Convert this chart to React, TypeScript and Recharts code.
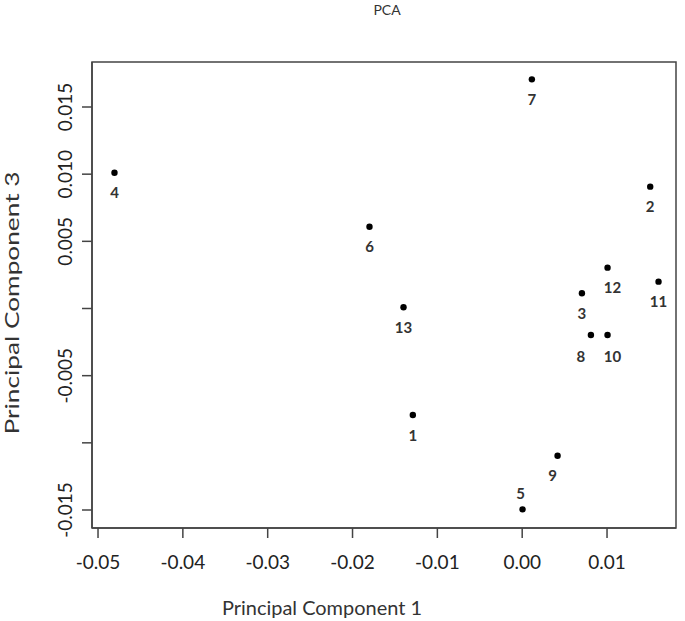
import React from "react";
import { ScatterChart, Scatter, XAxis, YAxis, ReferenceArea } from "recharts";

// PCA scores
const SAMPLES = ["1", "2", "3", "4", "5", "6", "7", "8", "9", "10", "11", "12", "13"];
const PC1 = [-0.01289, 0.01509, 0.00704, -0.04806, 0.00004, -0.018, 0.00114, 0.0081, 0.00417, 0.01006, 0.01607, 0.01006, -0.01399];
const PC3 = [-0.00793, 0.00907, 0.00113, 0.01011, -0.01495, 0.00609, 0.01706, -0.00197, -0.01096, -0.00197, 0.002, 0.00304, 0.00009];

const X_TICKS = [-0.05, -0.04, -0.03, -0.02, -0.01, 0, 0.01];
const X_TICK_LABELS = ["-0.05", "-0.04", "-0.03", "-0.02", "-0.01", "0.00", "0.01"];
const Y_TICKS = [-0.015, -0.01, -0.005, 0, 0.005, 0.01, 0.015];
const Y_TICK_LABELS = ["-0.015", "", "-0.005", "", "0.005", "0.010", "0.015"];

const X_DOMAIN: [number, number] = [-0.05071, 0.01813];
const Y_DOMAIN: [number, number] = [-0.01634, 0.01835];

// label nudges for a few crowded points (dx, dy from default spot under the dot)
const LABEL_NUDGE: Record<string, [number, number]> = {
  "5": [-2, -36],
  "8": [-10, 2],
  "9": [-5, 0],
  "10": [5, 2],
  "12": [5, 0],
};

const data = SAMPLES.map((name, i) => ({ name, pc1: PC1[i], pc3: PC3[i] }));

const AXIS = "#444";
const FONT = "Lato, 'Open Sans', sans-serif";

const findIdx = (arr: number[], v: number) => arr.findIndex((t) => Math.abs(t - v) < 1e-9);

const XTick = ({ x, payload }: any) => {
  const i = findIdx(X_TICKS, payload.value);
  return (
    <text x={x} y={569} textAnchor="middle" fontFamily={FONT} fontSize={19} fill="#222">
      {X_TICK_LABELS[i]}
    </text>
  );
};

const YTick = ({ y, payload }: any) => {
  const i = findIdx(Y_TICKS, payload.value);
  return (
    <text
      x={72}
      y={y}
      transform={`rotate(-90, 72, ${y})`}
      textAnchor="middle"
      fontFamily={FONT}
      fontSize={19}
      fill="#222"
    >
      {Y_TICK_LABELS[i]}
    </text>
  );
};

const PointShape = ({ cx, cy, payload }: any) => {
  const [dx, dy] = LABEL_NUDGE[payload.name] || [0, 0];
  return (
    <g>
      <circle cx={cx} cy={cy} r={3.2} fill="#000" />
      <text
        x={cx + dx}
        y={cy + 25.5 + dy}
        textAnchor="middle"
        fontFamily={FONT}
        fontWeight={700}
        fontSize={15}
        fill="#333"
      >
        {payload.name}
      </text>
    </g>
  );
};

export default function App() {
  return (
    <div style={{ position: "absolute", left: 0, top: 0, width: 685, height: 621, background: "#fff" }}>
      <div
        style={{
          position: "absolute",
          left: 0,
          width: 774,
          top: 1,
          textAlign: "center",
          fontFamily: FONT,
          fontSize: 14,
          color: "#333",
        }}
      >
        PCA
      </div>
      <ScatterChart width={685} height={621} margin={{ top: 62, right: 9, left: 0, bottom: 0 }}>
        <XAxis
          type="number"
          dataKey="pc1"
          domain={X_DOMAIN}
          allowDataOverflow
          ticks={X_TICKS}
          interval={0}
          height={93}
          tickSize={10}
          tick={<XTick />}
          axisLine={{ stroke: AXIS, strokeWidth: 1.5 }}
          tickLine={{ stroke: AXIS, strokeWidth: 1.5 }}
          label={{
            content: () => (
              <text x={322} y={615} textAnchor="middle" fontFamily={FONT} fontSize={19} fill="#333" textLength={200} lengthAdjust="spacingAndGlyphs">
                Principal Component 1
              </text>
            ),
          }}
        />
        <YAxis
          type="number"
          dataKey="pc3"
          domain={Y_DOMAIN}
          allowDataOverflow
          ticks={Y_TICKS}
          interval={0}
          width={92}
          tickSize={10}
          tick={<YTick />}
          axisLine={{ stroke: AXIS, strokeWidth: 1.5 }}
          tickLine={{ stroke: AXIS, strokeWidth: 1.5 }}
          label={{
            content: () => (
              <text
                x={19}
                y={303}
                transform="rotate(-90, 19, 303)"
                textAnchor="middle"
                fontFamily={FONT}
                fontSize={19}
                fill="#333"
                textLength={263}
                lengthAdjust="spacingAndGlyphs"
              >
                Principal Component 3
              </text>
            ),
          }}
        />
        <ReferenceArea
          x1={X_DOMAIN[0]}
          x2={X_DOMAIN[1]}
          y1={Y_DOMAIN[0]}
          y2={Y_DOMAIN[1]}
          fill="none"
          stroke={AXIS}
          strokeWidth={1.5}
          ifOverflow="visible"
        />
        <Scatter data={data} shape={<PointShape />} isAnimationActive={false} />
      </ScatterChart>
    </div>
  );
}
